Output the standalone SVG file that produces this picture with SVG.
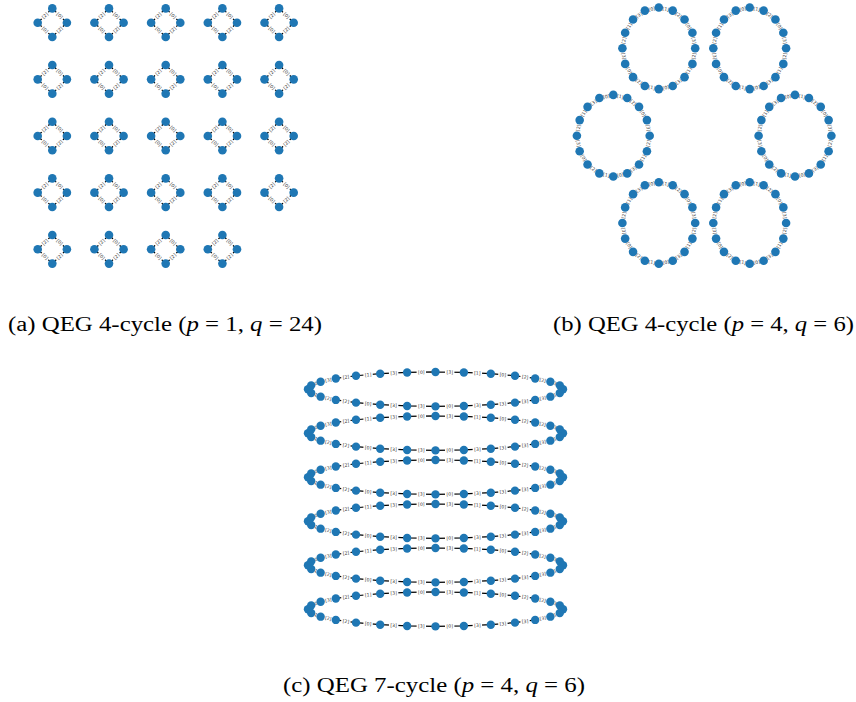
<svg xmlns="http://www.w3.org/2000/svg" width="856" height="702" viewBox="0 0 856 702">
<style>
.n{fill:#1f77b4}
.e{fill:none;stroke:#000;stroke-width:1.25}
.lb{fill:#fff}
.lt{font-family:"DejaVu Sans",sans-serif;font-size:4.6px;fill:#333;text-anchor:middle}
.cap{font-family:"Liberation Serif",serif;font-size:20px;fill:#000}
.it{font-style:italic}
</style>
<defs>
<g id="L0"><rect class="lb" x="-4.7" y="-3.1" width="9.4" height="6.2" rx="1.5"/><text class="lt" y="1.65">[0]</text></g>
<g id="L1"><rect class="lb" x="-4.7" y="-3.1" width="9.4" height="6.2" rx="1.5"/><text class="lt" y="1.65">[1]</text></g>
<g id="L2"><rect class="lb" x="-4.7" y="-3.1" width="9.4" height="6.2" rx="1.5"/><text class="lt" y="1.65">[2]</text></g>
<g id="L3"><rect class="lb" x="-4.7" y="-3.1" width="9.4" height="6.2" rx="1.5"/><text class="lt" y="1.65">[3]</text></g>

<g id="edgA">
<polygon class="e" points="0,-14.3 14.6,0 0,14.3 -14.6,0"/>
<use href="#L0" transform="translate(7.3,-7.15) rotate(44.4)"/>
<use href="#L2" transform="translate(7.3,7.15) rotate(-44.4)"/>
<use href="#L0" transform="translate(-7.3,7.15) rotate(44.4)"/>
<use href="#L2" transform="translate(-7.3,-7.15) rotate(-44.4)"/>
</g>
<g id="nodA">
<circle class="n" cx="0" cy="-14.3" r="4.3"/><circle class="n" cx="14.6" cy="0" r="4.3"/><circle class="n" cx="0" cy="14.3" r="4.3"/><circle class="n" cx="-14.6" cy="0" r="4.3"/>
</g>

<g id="edgB">
<polygon class="e" points="0,-40.8 13.93,-37.69 25.74,-28.85 33.63,-15.61 36.4,0 33.63,15.61 25.74,28.85 13.93,37.69 0,40.8 -13.93,37.69 -25.74,28.85 -33.63,15.61 -36.4,0 -33.63,-15.61 -25.74,-28.85 -13.93,-37.69"/>
<use href="#L1" transform="translate(6.97,-39.25) rotate(12.6)"/>
<use href="#L2" transform="translate(19.84,-33.27) rotate(36.8)"/>
<use href="#L0" transform="translate(29.69,-22.23) rotate(59.2)"/>
<use href="#L3" transform="translate(35.02,-7.81) rotate(79.9)"/>
<use href="#L2" transform="translate(35.02,7.81) rotate(-79.9)"/>
<use href="#L1" transform="translate(29.69,22.23) rotate(-59.2)"/>
<use href="#L3" transform="translate(19.84,33.27) rotate(-36.8)"/>
<use href="#L0" transform="translate(6.97,39.25) rotate(-12.6)"/>
<use href="#L1" transform="translate(-6.97,39.25) rotate(12.6)"/>
<use href="#L2" transform="translate(-19.84,33.27) rotate(36.8)"/>
<use href="#L0" transform="translate(-29.69,22.23) rotate(59.2)"/>
<use href="#L3" transform="translate(-35.02,7.81) rotate(79.9)"/>
<use href="#L2" transform="translate(-35.02,-7.81) rotate(-79.9)"/>
<use href="#L1" transform="translate(-29.69,-22.23) rotate(-59.2)"/>
<use href="#L3" transform="translate(-19.84,-33.27) rotate(-36.8)"/>
<use href="#L0" transform="translate(-6.97,-39.25) rotate(-12.6)"/>
</g>
<g id="nodB">
<circle class="n" cx="0" cy="-40.8" r="4.3"/><circle class="n" cx="13.93" cy="-37.69" r="4.3"/><circle class="n" cx="25.74" cy="-28.85" r="4.3"/><circle class="n" cx="33.63" cy="-15.61" r="4.3"/>
<circle class="n" cx="36.4" cy="0" r="4.3"/><circle class="n" cx="33.63" cy="15.61" r="4.3"/><circle class="n" cx="25.74" cy="28.85" r="4.3"/><circle class="n" cx="13.93" cy="37.69" r="4.3"/>
<circle class="n" cx="0" cy="40.8" r="4.3"/><circle class="n" cx="-13.93" cy="37.69" r="4.3"/><circle class="n" cx="-25.74" cy="28.85" r="4.3"/><circle class="n" cx="-33.63" cy="15.61" r="4.3"/>
<circle class="n" cx="-36.4" cy="0" r="4.3"/><circle class="n" cx="-33.63" cy="-15.61" r="4.3"/><circle class="n" cx="-25.74" cy="-28.85" r="4.3"/><circle class="n" cx="-13.93" cy="-37.69" r="4.3"/>
</g>

<g id="edgC">
<polygon class="e" points="0,-17.2 28.37,-16.77 55.32,-15.5 79.5,-13.45 99.68,-10.72 114.88,-7.46 124.3,-3.83 127.5,0 124.3,3.83 114.88,7.46 99.68,10.72 79.5,13.45 55.32,15.5 28.37,16.77 0,17.2 -28.37,16.77 -55.32,15.5 -79.5,13.45 -99.68,10.72 -114.88,7.46 -124.3,3.83 -127.5,0 -124.3,-3.83 -114.88,-7.46 -99.68,-10.72 -79.5,-13.45 -55.32,-15.5 -28.37,-16.77"/>
<use href="#L3" transform="translate(14.19,-16.99) rotate(0.87)"/>
<use href="#L1" transform="translate(41.85,-16.14) rotate(2.7)"/>
<use href="#L0" transform="translate(67.41,-14.48) rotate(4.85)"/>
<use href="#L2" transform="translate(89.59,-12.09) rotate(7.7)"/>
<use href="#L2" transform="translate(107.28,-9.09) rotate(12.1)"/>
<use href="#L3" transform="translate(119.59,-5.65) rotate(21.07)"/>
<use href="#L0" transform="translate(125.9,-1.92) rotate(50.1)"/>
<use href="#L2" transform="translate(125.9,1.92) rotate(-50.1)"/>
<use href="#L1" transform="translate(119.59,5.65) rotate(-21.07)"/>
<use href="#L3" transform="translate(107.28,9.09) rotate(-12.1)"/>
<use href="#L3" transform="translate(89.59,12.09) rotate(-7.7)"/>
<use href="#L3" transform="translate(67.41,14.48) rotate(-4.85)"/>
<use href="#L3" transform="translate(41.85,16.14) rotate(-2.7)"/>
<use href="#L0" transform="translate(14.19,16.99) rotate(-0.87)"/>
<use href="#L3" transform="translate(-14.19,16.99) rotate(0.87)"/>
<use href="#L3" transform="translate(-41.85,16.14) rotate(2.7)"/>
<use href="#L0" transform="translate(-67.41,14.48) rotate(4.85)"/>
<use href="#L2" transform="translate(-89.59,12.09) rotate(7.7)"/>
<use href="#L2" transform="translate(-107.28,9.09) rotate(12.1)"/>
<use href="#L1" transform="translate(-119.59,5.65) rotate(21.07)"/>
<use href="#L2" transform="translate(-125.9,1.92) rotate(50.1)"/>
<use href="#L3" transform="translate(-125.9,-1.92) rotate(-50.1)"/>
<use href="#L0" transform="translate(-119.59,-5.65) rotate(-21.07)"/>
<use href="#L3" transform="translate(-107.28,-9.09) rotate(-12.1)"/>
<use href="#L2" transform="translate(-89.59,-12.09) rotate(-7.7)"/>
<use href="#L1" transform="translate(-67.41,-14.48) rotate(-4.85)"/>
<use href="#L3" transform="translate(-41.85,-16.14) rotate(-2.7)"/>
<use href="#L0" transform="translate(-14.19,-16.99) rotate(-0.87)"/>
</g>
<g id="nodC">
<circle class="n" cx="0" cy="-17.2" r="4.2"/><circle class="n" cx="28.37" cy="-16.77" r="4.2"/><circle class="n" cx="55.32" cy="-15.5" r="4.2"/><circle class="n" cx="79.5" cy="-13.45" r="4.2"/>
<circle class="n" cx="99.68" cy="-10.72" r="4.2"/><circle class="n" cx="114.88" cy="-7.46" r="4.2"/><circle class="n" cx="124.3" cy="-3.83" r="4.2"/><circle class="n" cx="127.5" cy="0" r="4.2"/>
<circle class="n" cx="124.3" cy="3.83" r="4.2"/><circle class="n" cx="114.88" cy="7.46" r="4.2"/><circle class="n" cx="99.68" cy="10.72" r="4.2"/><circle class="n" cx="79.5" cy="13.45" r="4.2"/>
<circle class="n" cx="55.32" cy="15.5" r="4.2"/><circle class="n" cx="28.37" cy="16.77" r="4.2"/><circle class="n" cx="0" cy="17.2" r="4.2"/><circle class="n" cx="-28.37" cy="16.77" r="4.2"/>
<circle class="n" cx="-55.32" cy="15.5" r="4.2"/><circle class="n" cx="-79.5" cy="13.45" r="4.2"/><circle class="n" cx="-99.68" cy="10.72" r="4.2"/><circle class="n" cx="-114.88" cy="7.46" r="4.2"/>
<circle class="n" cx="-124.3" cy="3.83" r="4.2"/><circle class="n" cx="-127.5" cy="0" r="4.2"/><circle class="n" cx="-124.3" cy="-3.83" r="4.2"/><circle class="n" cx="-114.88" cy="-7.46" r="4.2"/>
<circle class="n" cx="-99.68" cy="-10.72" r="4.2"/><circle class="n" cx="-79.5" cy="-13.45" r="4.2"/><circle class="n" cx="-55.32" cy="-15.5" r="4.2"/><circle class="n" cx="-28.37" cy="-16.77" r="4.2"/>
</g>
</defs>

<rect width="856" height="702" fill="#fff"/>

<g id="connectors">
<g id="edges-a">
<use href="#edgA" x="52.3" y="22.7"/><use href="#edgA" x="109" y="22.7"/><use href="#edgA" x="165.7" y="22.7"/><use href="#edgA" x="222.4" y="22.7"/><use href="#edgA" x="279.1" y="22.7"/>
<use href="#edgA" x="52.3" y="79.35"/><use href="#edgA" x="109" y="79.35"/><use href="#edgA" x="165.7" y="79.35"/><use href="#edgA" x="222.4" y="79.35"/><use href="#edgA" x="279.1" y="79.35"/>
<use href="#edgA" x="52.3" y="136"/><use href="#edgA" x="109" y="136"/><use href="#edgA" x="165.7" y="136"/><use href="#edgA" x="222.4" y="136"/><use href="#edgA" x="279.1" y="136"/>
<use href="#edgA" x="52.3" y="192.65"/><use href="#edgA" x="109" y="192.65"/><use href="#edgA" x="165.7" y="192.65"/><use href="#edgA" x="222.4" y="192.65"/><use href="#edgA" x="279.1" y="192.65"/>
<use href="#edgA" x="52.3" y="249.3"/><use href="#edgA" x="109" y="249.3"/><use href="#edgA" x="165.7" y="249.3"/><use href="#edgA" x="222.4" y="249.3"/>
</g>
<g id="edges-b">
<use href="#edgB" x="658.8" y="48.3"/><use href="#edgB" x="749.7" y="48.3"/>
<use href="#edgB" x="613.3" y="135.7"/><use href="#edgB" x="795" y="135.7"/>
<use href="#edgB" x="658.8" y="223"/><use href="#edgB" x="749.7" y="223"/>
</g>
<g id="edges-c">
<use href="#edgC" x="435.5" y="389.2"/><use href="#edgC" x="435.5" y="433.2"/><use href="#edgC" x="435.5" y="477.2"/>
<use href="#edgC" x="435.5" y="521.2"/><use href="#edgC" x="435.5" y="565.2"/><use href="#edgC" x="435.5" y="609.2"/>
</g>
</g>

<g id="nodes-a">
<g id="a01"><use href="#nodA" x="52.3" y="22.7"/></g><g id="a02"><use href="#nodA" x="109" y="22.7"/></g><g id="a03"><use href="#nodA" x="165.7" y="22.7"/></g><g id="a04"><use href="#nodA" x="222.4" y="22.7"/></g><g id="a05"><use href="#nodA" x="279.1" y="22.7"/></g>
<g id="a06"><use href="#nodA" x="52.3" y="79.35"/></g><g id="a07"><use href="#nodA" x="109" y="79.35"/></g><g id="a08"><use href="#nodA" x="165.7" y="79.35"/></g><g id="a09"><use href="#nodA" x="222.4" y="79.35"/></g><g id="a10"><use href="#nodA" x="279.1" y="79.35"/></g>
<g id="a11"><use href="#nodA" x="52.3" y="136"/></g><g id="a12"><use href="#nodA" x="109" y="136"/></g><g id="a13"><use href="#nodA" x="165.7" y="136"/></g><g id="a14"><use href="#nodA" x="222.4" y="136"/></g><g id="a15"><use href="#nodA" x="279.1" y="136"/></g>
<g id="a16"><use href="#nodA" x="52.3" y="192.65"/></g><g id="a17"><use href="#nodA" x="109" y="192.65"/></g><g id="a18"><use href="#nodA" x="165.7" y="192.65"/></g><g id="a19"><use href="#nodA" x="222.4" y="192.65"/></g><g id="a20"><use href="#nodA" x="279.1" y="192.65"/></g>
<g id="a21"><use href="#nodA" x="52.3" y="249.3"/></g><g id="a22"><use href="#nodA" x="109" y="249.3"/></g><g id="a23"><use href="#nodA" x="165.7" y="249.3"/></g><g id="a24"><use href="#nodA" x="222.4" y="249.3"/></g>
</g>
<g id="nodes-b">
<g id="b1"><use href="#nodB" x="658.8" y="48.3"/></g><g id="b2"><use href="#nodB" x="749.7" y="48.3"/></g>
<g id="b3"><use href="#nodB" x="613.3" y="135.7"/></g><g id="b4"><use href="#nodB" x="795" y="135.7"/></g>
<g id="b5"><use href="#nodB" x="658.8" y="223"/></g><g id="b6"><use href="#nodB" x="749.7" y="223"/></g>
</g>
<g id="nodes-c">
<g id="c1"><use href="#nodC" x="435.5" y="389.2"/></g><g id="c2"><use href="#nodC" x="435.5" y="433.2"/></g><g id="c3"><use href="#nodC" x="435.5" y="477.2"/></g>
<g id="c4"><use href="#nodC" x="435.5" y="521.2"/></g><g id="c5"><use href="#nodC" x="435.5" y="565.2"/></g><g id="c6"><use href="#nodC" x="435.5" y="609.2"/></g>
</g>

<g id="captions">
<text class="cap" x="8" y="331" textLength="314" lengthAdjust="spacingAndGlyphs">(a) QEG 4-cycle (<tspan class="it">p</tspan> = 1, <tspan class="it">q</tspan> = 24)</text>
<text class="cap" x="553" y="331" textLength="301" lengthAdjust="spacingAndGlyphs">(b) QEG 4-cycle (<tspan class="it">p</tspan> = 4, <tspan class="it">q</tspan> = 6)</text>
<text class="cap" x="283" y="692" textLength="302" lengthAdjust="spacingAndGlyphs">(c) QEG 7-cycle (<tspan class="it">p</tspan> = 4, <tspan class="it">q</tspan> = 6)</text>
</g>
</svg>
